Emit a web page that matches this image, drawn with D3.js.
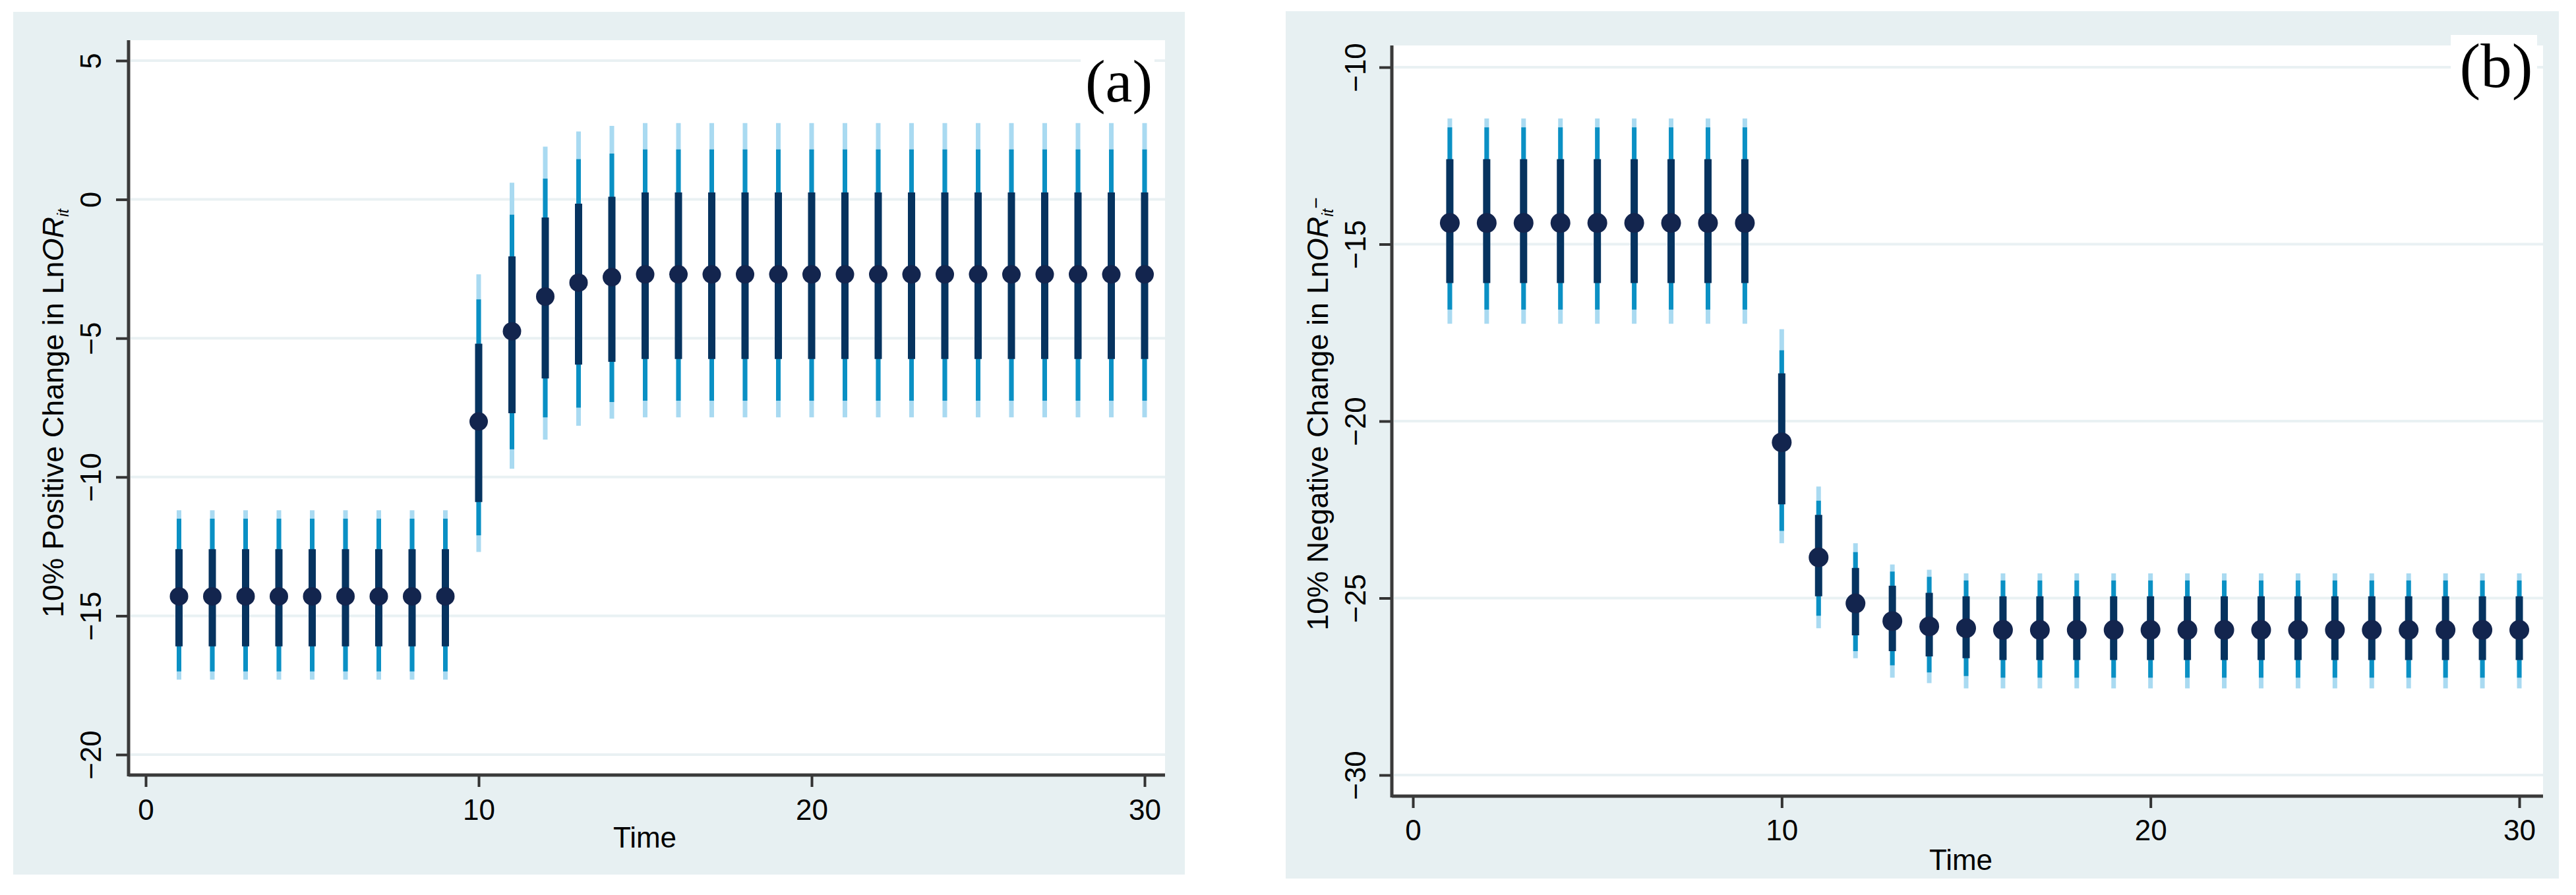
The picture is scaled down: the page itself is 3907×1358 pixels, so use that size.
<!DOCTYPE html>
<html>
<head>
<meta charset="utf-8">
<script src="https://cdn.jsdelivr.net/npm/d3@7"></script>
<style>
  body { margin: 0; background: #fff; }
  svg { display: block; }
</style>
</head>
<body>
<div id="chart"></div>
<script>
// Time periods on the x axis
const time = [1, 2, 3, 4, 5, 6, 7, 8, 9, 10, 11, 12, 13, 14, 15,
              16, 17, 18, 19, 20, 21, 22, 23, 24, 25, 26, 27, 28, 29, 30];

// Panel (a): 10% positive change
const aEst = [-14.3, -14.3, -14.3, -14.3, -14.3, -14.3, -14.3, -14.3, -14.3, -8.0, -4.75, -3.5, -3.0, -2.8, -2.7,
              -2.7, -2.7, -2.7, -2.7, -2.7, -2.7, -2.7, -2.7, -2.7, -2.7, -2.7, -2.7, -2.7, -2.7, -2.7];
const aLo1 = [-16.1, -16.1, -16.1, -16.1, -16.1, -16.1, -16.1, -16.1, -16.1, -10.9, -7.7, -6.45, -5.95, -5.85, -5.75,
              -5.75, -5.75, -5.75, -5.75, -5.75, -5.75, -5.75, -5.75, -5.75, -5.75, -5.75, -5.75, -5.75, -5.75, -5.75];
const aHi1 = [-12.6, -12.6, -12.6, -12.6, -12.6, -12.6, -12.6, -12.6, -12.6, -5.2, -2.05, -0.65, -0.15, 0.1, 0.25,
              0.25, 0.25, 0.25, 0.25, 0.25, 0.25, 0.25, 0.25, 0.25, 0.25, 0.25, 0.25, 0.25, 0.25, 0.25];
const aLo2 = [-17.0, -17.0, -17.0, -17.0, -17.0, -17.0, -17.0, -17.0, -17.0, -12.1, -9.0, -7.85, -7.5, -7.3, -7.25,
              -7.25, -7.25, -7.25, -7.25, -7.25, -7.25, -7.25, -7.25, -7.25, -7.25, -7.25, -7.25, -7.25, -7.25, -7.25];
const aHi2 = [-11.5, -11.5, -11.5, -11.5, -11.5, -11.5, -11.5, -11.5, -11.5, -3.6, -0.55, 0.75, 1.45, 1.65, 1.8,
              1.8, 1.8, 1.8, 1.8, 1.8, 1.8, 1.8, 1.8, 1.8, 1.8, 1.8, 1.8, 1.8, 1.8, 1.8];
const aLo3 = [-17.3, -17.3, -17.3, -17.3, -17.3, -17.3, -17.3, -17.3, -17.3, -12.7, -9.7, -8.65, -8.15, -7.9, -7.85,
              -7.85, -7.85, -7.85, -7.85, -7.85, -7.85, -7.85, -7.85, -7.85, -7.85, -7.85, -7.85, -7.85, -7.85, -7.85];
const aHi3 = [-11.2, -11.2, -11.2, -11.2, -11.2, -11.2, -11.2, -11.2, -11.2, -2.7, 0.6, 1.9, 2.45, 2.65, 2.75,
              2.75, 2.75, 2.75, 2.75, 2.75, 2.75, 2.75, 2.75, 2.75, 2.75, 2.75, 2.75, 2.75, 2.75, 2.75];

// Panel (b): 10% negative change
const bEst = [-14.4, -14.4, -14.4, -14.4, -14.4, -14.4, -14.4, -14.4, -14.4, -20.6, -23.85, -25.15, -25.65, -25.8, -25.85,
              -25.9, -25.9, -25.9, -25.9, -25.9, -25.9, -25.9, -25.9, -25.9, -25.9, -25.9, -25.9, -25.9, -25.9, -25.9];
const bLo1 = [-16.1, -16.1, -16.1, -16.1, -16.1, -16.1, -16.1, -16.1, -16.1, -22.35, -24.95, -26.05, -26.5, -26.65, -26.7,
              -26.75, -26.75, -26.75, -26.75, -26.75, -26.75, -26.75, -26.75, -26.75, -26.75, -26.75, -26.75, -26.75, -26.75, -26.75];
const bHi1 = [-12.6, -12.6, -12.6, -12.6, -12.6, -12.6, -12.6, -12.6, -12.6, -18.65, -22.65, -24.15, -24.65, -24.85, -24.95,
              -24.95, -24.95, -24.95, -24.95, -24.95, -24.95, -24.95, -24.95, -24.95, -24.95, -24.95, -24.95, -24.95, -24.95, -24.95];
const bLo2 = [-16.85, -16.85, -16.85, -16.85, -16.85, -16.85, -16.85, -16.85, -16.85, -23.1, -25.5, -26.5, -26.9, -27.1, -27.2,
              -27.25, -27.25, -27.25, -27.25, -27.25, -27.25, -27.25, -27.25, -27.25, -27.25, -27.25, -27.25, -27.25, -27.25, -27.25];
const bHi2 = [-11.7, -11.7, -11.7, -11.7, -11.7, -11.7, -11.7, -11.7, -11.7, -18.0, -22.25, -23.7, -24.25, -24.4, -24.5,
              -24.5, -24.5, -24.5, -24.5, -24.5, -24.5, -24.5, -24.5, -24.5, -24.5, -24.5, -24.5, -24.5, -24.5, -24.5];
const bLo3 = [-17.25, -17.25, -17.25, -17.25, -17.25, -17.25, -17.25, -17.25, -17.25, -23.45, -25.85, -26.7, -27.25, -27.4, -27.55,
              -27.55, -27.55, -27.55, -27.55, -27.55, -27.55, -27.55, -27.55, -27.55, -27.55, -27.55, -27.55, -27.55, -27.55, -27.55];
const bHi3 = [-11.45, -11.45, -11.45, -11.45, -11.45, -11.45, -11.45, -11.45, -11.45, -17.4, -21.85, -23.45, -24.05, -24.2, -24.3,
              -24.3, -24.3, -24.3, -24.3, -24.3, -24.3, -24.3, -24.3, -24.3, -24.3, -24.3, -24.3, -24.3, -24.3, -24.3];

// Tick labels
const xTicks = [0, 10, 20, 30];
const aYTicks = [-20, -15, -10, -5, 0, 5];
const bYTicks = [-30, -25, -20, -15, -10];

const FONT = "'Liberation Sans', Arial, sans-serif";
const W = 3907, H = 1358;

const svg = d3.select("#chart")
    .append("svg")
    .attr("width", W)
    .attr("height", H);

function drawPanel(p, s) {
    const g = svg.append("g");

    // graph region and plot region
    g.append("rect")
        .attr("x", p.bg[0]).attr("y", p.bg[1])
        .attr("width", p.bg[2]).attr("height", p.bg[3])
        .attr("fill", "#e7f0f2");
    g.append("rect")
        .attr("x", p.left).attr("y", p.top)
        .attr("width", p.right - p.left).attr("height", p.bottom - p.top)
        .attr("fill", "#ffffff");

    const x = d3.scaleLinear().domain([0, 30]).range(p.xRange);
    const y = d3.scaleLinear().domain(p.yDomain).range(p.yRange);

    // horizontal gridlines
    g.selectAll(".grid")
        .data(p.yTicks)
        .join("line")
        .attr("class", "grid")
        .attr("x1", p.left + 3).attr("x2", p.right)
        .attr("y1", d => y(d)).attr("y2", d => y(d))
        .attr("stroke", "#e9f1f3")
        .attr("stroke-width", 4);

    const pts = time.map((t, i) => ({
        t: t, est: s.est[i],
        lo1: s.lo1[i], hi1: s.hi1[i],
        lo2: s.lo2[i], hi2: s.hi2[i],
        lo3: s.lo3[i], hi3: s.hi3[i]
    }));

    // interval bars, widest first
    const layers = [
        { lo: "lo3", hi: "hi3", color: "#a9daf1", w: 7 },
        { lo: "lo2", hi: "hi2", color: "#0a90c4", w: 7 },
        { lo: "lo1", hi: "hi1", color: "#06335f", w: 11 }
    ];
    layers.forEach(l => {
        g.append("g").selectAll("line")
            .data(pts)
            .join("line")
            .attr("x1", d => x(d.t)).attr("x2", d => x(d.t))
            .attr("y1", d => y(d[l.hi])).attr("y2", d => y(d[l.lo]))
            .attr("stroke", l.color)
            .attr("stroke-width", l.w);
    });

    // point estimates
    g.append("g").selectAll("circle")
        .data(pts)
        .join("circle")
        .attr("cx", d => x(d.t))
        .attr("cy", d => y(d.est))
        .attr("r", p.r)
        .attr("fill", "#13254e");

    // y axis
    const yAxis = g.append("g")
        .attr("transform", `translate(${p.left},0)`)
        .call(d3.axisLeft(y).tickValues(p.yTicks).tickSize(19).tickFormat(d3.format("d")));
    yAxis.select(".domain").remove();
    yAxis.selectAll(".tick line").attr("stroke", "#333").attr("stroke-width", 4);
    yAxis.selectAll(".tick text")
        .attr("x", 0).attr("y", 0).attr("dy", 0)
        .attr("transform", `translate(${-p.yLabelOff},0) rotate(-90)`)
        .attr("text-anchor", "middle")
        .attr("fill", "#000")
        .style("font-family", FONT)
        .style("font-size", "44px");

    // x axis
    const xAxis = g.append("g")
        .attr("transform", `translate(0,${p.bottom})`)
        .call(d3.axisBottom(x).tickValues(xTicks).tickSize(18).tickFormat(d3.format("d")));
    xAxis.select(".domain").remove();
    xAxis.selectAll(".tick line").attr("stroke", "#333").attr("stroke-width", 4);
    xAxis.selectAll(".tick text")
        .attr("y", p.xLabelOff).attr("dy", 0)
        .attr("fill", "#000")
        .style("font-family", FONT)
        .style("font-size", "44px");

    // axis lines
    g.append("line")
        .attr("x1", p.left).attr("x2", p.left)
        .attr("y1", p.top).attr("y2", p.bottom + 2)
        .attr("stroke", "#3a3a3a").attr("stroke-width", 5);
    g.append("line")
        .attr("x1", p.left).attr("x2", p.right)
        .attr("y1", p.bottom).attr("y2", p.bottom)
        .attr("stroke", "#3a3a3a").attr("stroke-width", 5);

    // axis titles
    g.append("text")
        .attr("x", p.timeX).attr("y", p.timeY)
        .attr("text-anchor", "middle")
        .style("font-family", FONT)
        .style("font-size", "44px")
        .text("Time");

    const yt = g.append("text")
        .attr("transform", `translate(${p.titleX},${p.titleY}) rotate(-90)`)
        .attr("text-anchor", "middle")
        .style("font-family", FONT)
        .style("font-size", "45px");
    yt.append("tspan").text(p.title + " in Ln");
    yt.append("tspan").style("font-style", "italic").text("OR");
    yt.append("tspan").style("font-style", "italic").style("font-size", "24px").attr("dy", 8).text("it");
    if (p.sup) {
        yt.append("tspan").style("font-size", "30px").attr("dy", -16).text(p.sup);
    }

    // panel label with white box
    g.append("rect")
        .attr("x", p.labBox[0]).attr("y", p.labBox[1])
        .attr("width", p.labBox[2]).attr("height", p.labBox[3])
        .attr("fill", "#ffffff");
    g.append("text")
        .attr("x", p.labX).attr("y", p.labY)
        .attr("text-anchor", "middle")
        .style("font-family", "'Liberation Serif', 'Times New Roman', serif")
        .style("font-size", p.labSize + "px")
        .text(p.label);
}

drawPanel({
    bg: [20, 18, 1777, 1309],
    left: 195, right: 1767, top: 61, bottom: 1176,
    xRange: [221, 1736],
    yDomain: [-20, 5], yRange: [1145, 92],
    yTicks: aYTicks, r: 14,
    yLabelOff: 42, xLabelOff: 68,
    timeX: 978, timeY: 1286,
    titleX: 96, titleY: 627,
    title: "10% Positive Change",
    sup: null,
    labBox: [1639, 61, 112, 118], labX: 1697, labY: 154, labSize: 92,
    label: "(a)"
}, { est: aEst, lo1: aLo1, hi1: aHi1, lo2: aLo2, hi2: aHi2, lo3: aLo3, hi3: aHi3 });

drawPanel({
    bg: [1950, 17, 1931, 1316],
    left: 2111, right: 3857, top: 69, bottom: 1208,
    xRange: [2143, 3821],
    yDomain: [-30, -10], yRange: [1176, 102],
    yTicks: bYTicks, r: 15,
    yLabelOff: 40, xLabelOff: 67,
    timeX: 2974, timeY: 1320,
    titleX: 2014, titleY: 628,
    title: "10% Negative Change",
    sup: "\u2212",
    labBox: [3717, 53, 131, 112], labX: 3786, labY: 132, labSize: 95,
    label: "(b)"
}, { est: bEst, lo1: bLo1, hi1: bHi1, lo2: bLo2, hi2: bHi2, lo3: bLo3, hi3: bHi3 });
</script>
</body>
</html>
